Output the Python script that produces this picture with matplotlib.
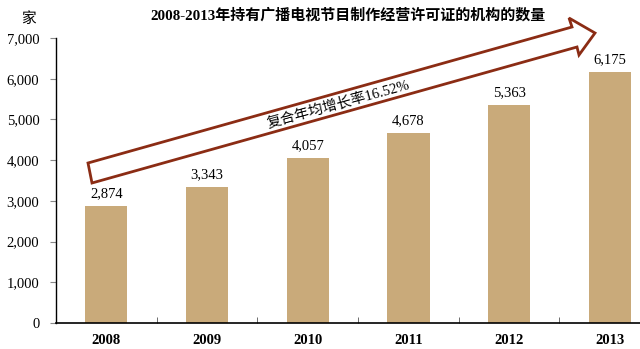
import matplotlib
matplotlib.use("Agg")
import matplotlib.pyplot as plt
from matplotlib.patches import Polygon
import numpy as np

years = ["2008", "2009", "2010", "2011", "2012", "2013"]
counts = [2874, 3343, 4057, 4678, 5363, 6175]
yticks = [0, 1000, 2000, 3000, 4000, 5000, 6000, 7000]
title = "2008-2013年持有广播电视节目制作经营许可证的机构的数量"
unit = "家"
cagr_text = "复合年均增长率16.52%"

serif = ["Liberation Serif", "Noto Sans CJK SC", "DejaVu Serif"]
cjk = ["Liberation Serif", "Noto Sans CJK SC", "DejaVu Sans"]

W, H = 640, 349
fig = plt.figure(figsize=(W / 100, H / 100), dpi=100)
ax = fig.add_axes([56 / W, 1 - 323 / H, 1 - 56 / W, (323 - 38) / H])

x = np.arange(len(years))
ax.bar(x, counts, width=0.42, color="#C9AA7A", zorder=2)
ax.set_xlim(-0.5, 5.3)
ax.set_ylim(0, 7000)

for xi, v in zip(x, counts):
    ax.annotate(f"{v:,}", (xi, v), xytext=(0, 4), textcoords="offset points",
                ha="center", va="bottom", fontsize=10.5, family=serif)

ax.set_yticks(yticks)
ax.set_yticklabels([f"{t:,}" for t in yticks], family=serif, fontsize=10.5)
ax.set_xticks(x)
ax.set_xticklabels(years, family=serif, fontsize=10.5, fontweight="bold")
ax.set_xticks(x[:-1] + 0.5, minor=True)
ax.tick_params(axis="x", which="major", length=0, pad=8)
ax.tick_params(axis="x", which="minor", direction="in", length=4, color="#555555")
ax.tick_params(axis="y", direction="out", length=4, color="#888888", pad=8)

for s in ["top", "right"]:
    ax.spines[s].set_visible(False)
ax.spines["left"].set_linewidth(1.0)
ax.spines["bottom"].set_linewidth(1.2)

# arrow (decoration) in figure pixel coordinates converted to figure fraction
pts_px = [(88, 163), (572, 27), (569, 18), (595, 33), (579, 55), (577, 47), (92, 183)]
pts = [(px / W, 1 - py / H) for px, py in pts_px]
arrow = Polygon(pts, closed=True, facecolor="white", edgecolor="#8B2C14",
                linewidth=2.0, transform=fig.transFigure, zorder=5)
fig.patches.append(arrow)

fig.text(338 / W, 1 - 104 / H, cagr_text, rotation=15.5, ha="center", va="center",
         fontsize=10.5, family=cjk, zorder=6)

fig.text(348 / W, 1 - 15 / H, title, ha="center", va="center", fontsize=10.8,
         fontweight="bold", family=cjk)
fig.text(28 / W, 1 - 19 / H, unit, ha="center", va="center", fontsize=10.5,
         family=cjk)

fig.savefig("out.png", dpi=100)
